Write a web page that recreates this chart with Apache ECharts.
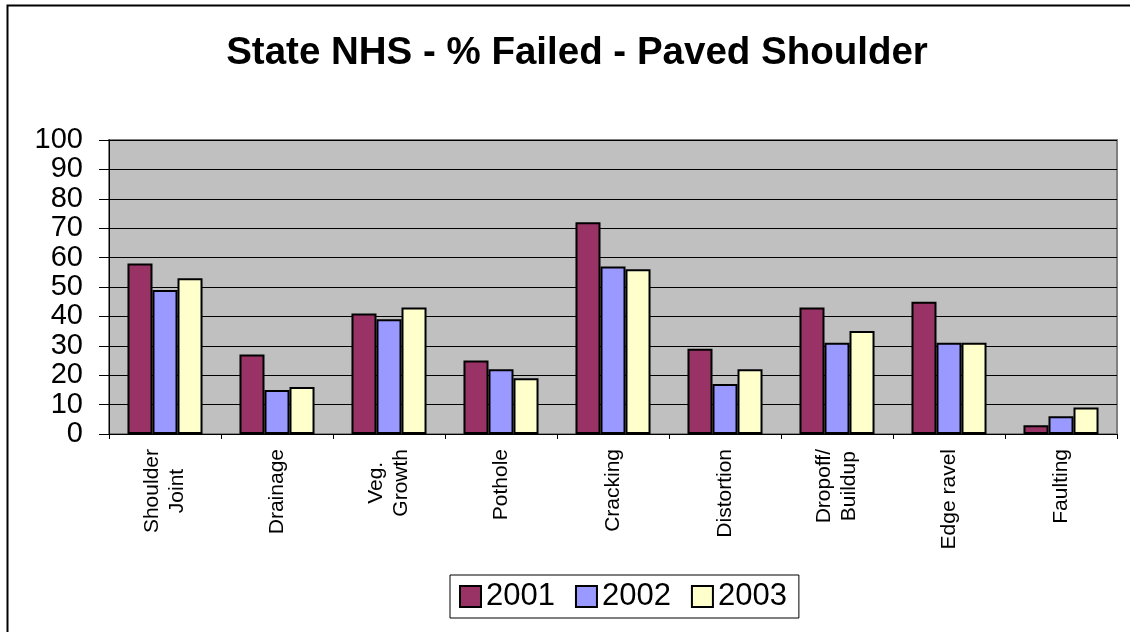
<!DOCTYPE html>
<html>
<head>
<meta charset="utf-8">
<script src="https://cdn.jsdelivr.net/npm/echarts@6/dist/echarts.min.js"></script>
<style>
html,body{margin:0;padding:0;background:#fff;}
#chart{width:1130px;height:632px;}
</style>
</head>
<body>
<div id="chart"></div>
<script>
const categories = ['Shoulder\nJoint', 'Drainage', 'Veg.\nGrowth', 'Pothole', 'Cracking', 'Distortion', 'Dropoff/\nBuildup', 'Edge ravel', 'Faulting'];
const seriesNames = ['2001', '2002', '2003'];
const values2001 = [58, 27, 41, 25, 72, 29, 43, 45, 3];
const values2002 = [49, 15, 39, 22, 57, 17, 31, 31, 6];
const values2003 = [53, 16, 43, 19, 56, 22, 35, 31, 9];
const colors = ['#993366', '#9999FF', '#FFFFCC'];
const titleText = 'State NHS - % Failed - Paved Shoulder';

const chart = echarts.init(document.getElementById('chart'), null, {renderer: 'canvas'});
const font = 'Liberation Sans, Arial, sans-serif';
const dataSets = [values2001, values2002, values2003];

chart.setOption({
  animation: false,
  backgroundColor: '#ffffff',
  textStyle: {fontFamily: font},
  graphic: [{
    type: 'rect', left: 5, top: 3, z: -10, silent: true,
    shape: {width: 1300, height: 800},
    style: {fill: 'none', stroke: '#000', lineWidth: 2}
  }],
  title: {
    text: titleText, left: 572, textAlign: 'center', top: 29,
    textStyle: {fontSize: 38.5, fontWeight: 'bold', color: '#000', fontFamily: font}
  },
  legend: {
    data: seriesNames,
    left: 450, top: 575,
    backgroundColor: '#fff', borderColor: '#000', borderWidth: 1,
    padding: [6, 12, 6, 9],
    itemWidth: 21, itemHeight: 21, itemGap: 20,
    icon: 'rect',
    itemStyle: {borderColor: '#000', borderWidth: 2},
    textStyle: {fontSize: 31, color: '#000', padding: [0, 0, 0, 0], fontFamily: font}
  },
  grid: {
    left: 109, right: 13, top: 140, bottom: 198,
    show: true, backgroundColor: '#C0C0C0', borderColor: '#808080', borderWidth: 2,
    containLabel: false
  },
  xAxis: {
    type: 'category', data: categories,
    axisLine: {show: true, lineStyle: {color: '#000', width: 1}},
    axisTick: {show: true, length: 5, alignWithLabel: false, lineStyle: {color: '#000'}},
    axisLabel: {
      rotate: 90, interval: 0, margin: 15, color: '#000', fontSize: 21, fontFamily: font,
      formatter: function (v) { return v.split('\n').map(s => '{c|' + s + '}').join('\n'); },
      rich: {c: {align: 'center', fontSize: 21, color: '#000', fontFamily: font, lineHeight: 25}}
    },
    splitLine: {show: false}
  },
  yAxis: {
    type: 'value', min: 0, max: 100, interval: 10,
    axisLine: {show: true, lineStyle: {color: '#000', width: 1}},
    axisTick: {show: true, length: 10, lineStyle: {color: '#000', width: 1}},
    axisLabel: {color: '#000', fontSize: 29, margin: 26, fontFamily: font,
      showMinLabel: true, showMaxLabel: true},
    splitLine: {show: true, lineStyle: {color: '#000', width: 1}}
  },
  series: seriesNames.map((name, i) => ({
    name: name, type: 'bar', data: dataSets[i],
    barGap: '0%', barCategoryGap: '33%',
    itemStyle: {color: colors[i], borderColor: '#000', borderWidth: 2}
  }))
});
</script>
</body>
</html>
